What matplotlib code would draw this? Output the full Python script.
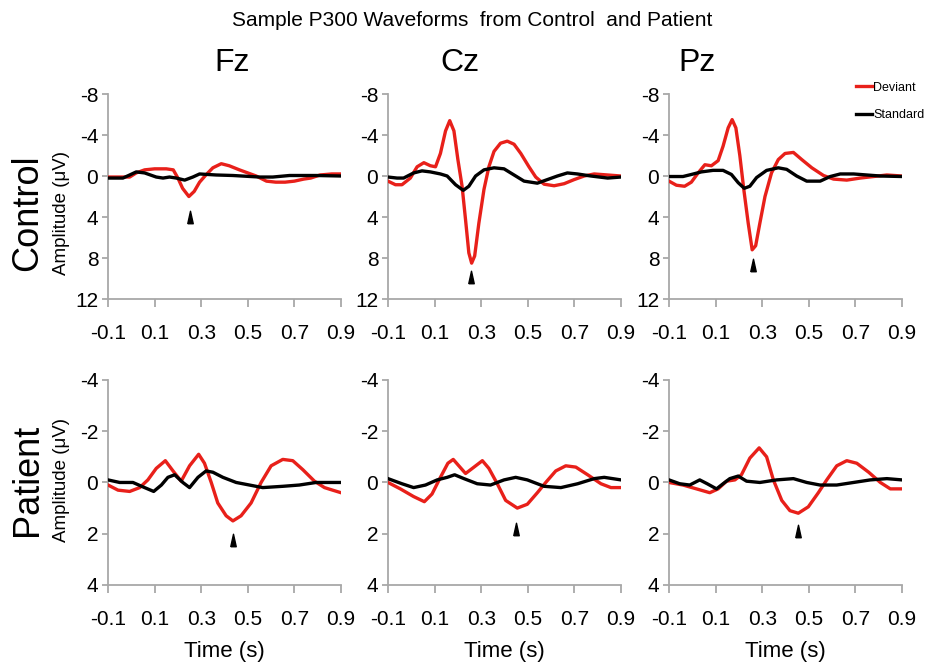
import numpy as np
import matplotlib
matplotlib.use("Agg")
import matplotlib.pyplot as plt
from matplotlib import font_manager

# --- data (time in s, amplitude in uV; positive = down) ---
fz_ctrl_dev_t = [-0.1, -0.036, -0.007, 0.021, 0.057, 0.1, 0.15, 0.18, 0.2, 0.22, 0.247, 0.27, 0.293, 0.32,
                 0.35, 0.386, 0.42, 0.464, 0.5, 0.536, 0.58, 0.62, 0.66, 0.7, 0.74, 0.77, 0.81, 0.86, 0.9]
fz_ctrl_dev_v = [0.1, 0.1, 0.1, -0.3, -0.6, -0.7, -0.7, -0.6, 0.2, 1.2, 2.0, 1.5, 0.6, -0.1,
                 -0.8, -1.2, -1.0, -0.6, -0.3, 0.0, 0.5, 0.6, 0.6, 0.5, 0.3, 0.2, -0.1, -0.2, -0.2]
fz_ctrl_std_t = [-0.1, -0.036, -0.007, 0.021, 0.057, 0.107, 0.136, 0.164, 0.193, 0.229, 0.264, 0.293,
                 0.364, 0.436, 0.55, 0.607, 0.679, 0.793, 0.9]
fz_ctrl_std_v = [0.2, 0.2, -0.1, -0.4, -0.3, 0.1, 0.2, 0.1, 0.2, 0.4, 0.1, -0.2,
                 -0.1, -0.05, 0.1, 0.1, -0.05, -0.05, 0.0]

cz_ctrl_dev_t = [-0.1, -0.068, -0.04, -0.004, 0.025, 0.054, 0.082, 0.104, 0.125, 0.147, 0.165, 0.183,
                 0.2, 0.218, 0.233, 0.247, 0.259, 0.272, 0.29, 0.312, 0.333, 0.355, 0.383, 0.412,
                 0.441, 0.47, 0.505, 0.534, 0.57, 0.613, 0.656, 0.699, 0.742, 0.785, 0.843, 0.9]
cz_ctrl_dev_v = [0.5, 0.85, 0.85, 0.2, -0.9, -1.3, -1.0, -0.9, -2.2, -4.4, -5.4, -4.4,
                 -1.6, 1.0, 4.3, 7.5, 8.5, 7.8, 4.6, 1.3, -0.9, -2.4, -3.2, -3.4,
                 -3.1, -2.2, -0.9, 0.1, 0.8, 0.95, 0.75, 0.35, 0.0, -0.2, -0.1, 0.0]
cz_ctrl_std_t = [-0.1, -0.061, -0.033, 0.01, 0.046, 0.082, 0.125, 0.154, 0.19, 0.223, 0.247, 0.276,
                 0.312, 0.355, 0.398, 0.441, 0.484, 0.541, 0.584, 0.627, 0.67, 0.713, 0.771, 0.843, 0.9]
cz_ctrl_std_v = [0.1, 0.2, 0.2, -0.3, -0.5, -0.4, -0.2, 0.0, 0.85, 1.4, 1.0, 0.0,
                 -0.6, -0.8, -0.7, -0.1, 0.5, 0.7, 0.35, 0.0, -0.3, -0.2, 0.0, 0.2, 0.1]

pz_ctrl_dev_t = [-0.1, -0.068, -0.033, -0.004, 0.025, 0.054, 0.082, 0.111, 0.132, 0.154, 0.171, 0.187,
                 0.204, 0.221, 0.24, 0.257, 0.272, 0.29, 0.312, 0.34, 0.369, 0.398, 0.434, 0.47,
                 0.513, 0.563, 0.606, 0.663, 0.721, 0.778, 0.835, 0.9]
pz_ctrl_dev_v = [0.5, 0.9, 1.0, 0.6, -0.3, -1.1, -1.0, -1.5, -2.9, -4.7, -5.5, -4.7,
                 -2.0, 1.3, 4.6, 7.2, 6.8, 4.6, 2.0, -0.3, -1.6, -2.2, -2.3, -1.6,
                 -0.8, -0.05, 0.3, 0.4, 0.2, 0.05, -0.1, 0.0]
pz_ctrl_std_t = [-0.1, -0.04, -0.004, 0.039, 0.089, 0.132, 0.168, 0.197, 0.223, 0.247, 0.276, 0.319,
                 0.369, 0.405, 0.448, 0.491, 0.549, 0.592, 0.635, 0.692, 0.749, 0.807, 0.9]
pz_ctrl_std_v = [0.05, 0.05, -0.15, -0.4, -0.55, -0.55, -0.15, 0.65, 1.2, 1.0, 0.15, -0.55,
                 -0.8, -0.65, 0.0, 0.5, 0.5, 0.05, -0.2, -0.2, -0.1, 0.0, 0.05]

fz_pat_dev_t = [-0.1, -0.057, -0.007, 0.036, 0.071, 0.107, 0.146, 0.179, 0.214, 0.25, 0.289, 0.314,
                0.343, 0.371, 0.407, 0.436, 0.471, 0.514, 0.557, 0.6, 0.65, 0.693, 0.736, 0.786,
                0.829, 0.864, 0.9]
fz_pat_dev_v = [0.1, 0.3, 0.35, 0.2, -0.1, -0.55, -0.85, -0.45, -0.05, -0.65, -1.1, -0.75,
                0.0, 0.8, 1.3, 1.5, 1.3, 0.8, 0.0, -0.65, -0.9, -0.85, -0.5, -0.05,
                0.2, 0.3, 0.4]
fz_pat_std_t = [-0.1, -0.05, 0.007, 0.057, 0.096, 0.129, 0.157, 0.186, 0.221, 0.25, 0.286, 0.321,
                0.35, 0.393, 0.45, 0.507, 0.564, 0.65, 0.721, 0.793, 0.9]
fz_pat_std_v = [-0.1, 0.0, 0.0, 0.2, 0.35, 0.1, -0.2, -0.3, 0.0, 0.2, -0.2, -0.45,
                -0.4, -0.2, 0.0, 0.1, 0.2, 0.15, 0.1, 0.0, 0.0]

cz_pat_dev_t = [-0.1, -0.047, 0.01, 0.056, 0.089, 0.125, 0.157, 0.18, 0.204, 0.233, 0.262, 0.305,
                0.333, 0.369, 0.405, 0.455, 0.498, 0.541, 0.577, 0.62, 0.663, 0.706, 0.757, 0.814,
                0.857, 0.9]
cz_pat_dev_v = [0.0, 0.25, 0.55, 0.75, 0.45, -0.2, -0.75, -0.9, -0.65, -0.35, -0.55, -0.85,
                -0.55, 0.05, 0.7, 1.0, 0.85, 0.4, 0.0, -0.45, -0.65, -0.6, -0.3, 0.05,
                0.2, 0.2]
cz_pat_std_t = [-0.1, -0.04, 0.01, 0.061, 0.111, 0.154, 0.186, 0.226, 0.283, 0.34, 0.398, 0.448,
                0.498, 0.57, 0.642, 0.714, 0.785, 0.828, 0.9]
cz_pat_std_v = [-0.15, 0.05, 0.2, 0.1, -0.1, -0.2, -0.3, -0.15, 0.05, 0.1, -0.1, -0.2,
                -0.1, 0.15, 0.2, 0.05, -0.15, -0.2, -0.1]

pz_pat_dev_t = [-0.1, -0.04, 0.018, 0.075, 0.111, 0.147, 0.183, 0.211, 0.247, 0.287, 0.319, 0.348,
                0.384, 0.419, 0.455, 0.498, 0.541, 0.577, 0.62, 0.663, 0.706, 0.757, 0.807, 0.85, 0.9]
pz_pat_dev_v = [0.0, 0.1, 0.25, 0.4, 0.25, -0.05, -0.1, -0.3, -0.95, -1.35, -1.0, -0.1,
                0.7, 1.1, 1.2, 0.95, 0.4, -0.1, -0.65, -0.85, -0.75, -0.4, 0.0, 0.25, 0.25]
pz_pat_std_t = [-0.1, -0.054, -0.011, 0.032, 0.064, 0.104, 0.132, 0.161, 0.197, 0.233, 0.29, 0.362,
                0.434, 0.491, 0.548, 0.62, 0.692, 0.764, 0.835, 0.9]
pz_pat_std_v = [-0.1, 0.05, 0.1, -0.1, 0.05, 0.25, 0.05, -0.15, -0.25, -0.05, 0.0, -0.1,
                -0.15, 0.0, 0.1, 0.1, 0.0, -0.1, -0.15, -0.1]

# P300 arrow marks (time, amplitude)
arrows_ctrl = [(0.25, 4.0), (0.257, 9.85), (0.262, 8.7)]
arrows_pat = [(0.436, 2.24), (0.451, 1.82), (0.452, 1.9)]

electrodes = ["Fz", "Cz", "Pz"]
xticks = [-0.1, 0.1, 0.3, 0.5, 0.7, 0.9]
ctrl_yticks = [-8, -4, 0, 4, 8, 12]
pat_yticks = [-4, -2, 0, 2, 4]

names = {f.name for f in font_manager.fontManager.ttflist}
narrow = "Liberation Sans Narrow" if "Liberation Sans Narrow" in names else "Liberation Sans"
plain = "Liberation Sans"

red = "#e8201a"
grey = "#a8a8a8"
arrow_marker = [(-0.22, -0.5), (0.22, -0.5), (0.0, 0.5), (-0.22, -0.5)]

fig = plt.figure(figsize=(9.32, 6.7), dpi=100)

lefts = [0.1159, 0.4163, 0.7178]
w = 0.25
h = 0.306
rows = [
    (0.5537, ctrl_yticks, [(fz_ctrl_dev_t, fz_ctrl_dev_v, fz_ctrl_std_t, fz_ctrl_std_v),
                           (cz_ctrl_dev_t, cz_ctrl_dev_v, cz_ctrl_std_t, cz_ctrl_std_v),
                           (pz_ctrl_dev_t, pz_ctrl_dev_v, pz_ctrl_std_t, pz_ctrl_std_v)], arrows_ctrl),
    (0.1269, pat_yticks, [(fz_pat_dev_t, fz_pat_dev_v, fz_pat_std_t, fz_pat_std_v),
                          (cz_pat_dev_t, cz_pat_dev_v, cz_pat_std_t, cz_pat_std_v),
                          (pz_pat_dev_t, pz_pat_dev_v, pz_pat_std_t, pz_pat_std_v)], arrows_pat),
]

for r, (bottom, yt, series, arrows) in enumerate(rows):
    for c in range(3):
        ax = fig.add_axes([lefts[c], bottom, w, h])
        dt, dv, st, sv = series[c]
        ax.plot(dt, dv, color=red, lw=2.4, solid_joinstyle="round", label="Deviant", zorder=3)
        ax.plot(st, sv, color="black", lw=2.4, solid_joinstyle="round", label="Standard", zorder=4)
        ax.plot(arrows[c][0], arrows[c][1], marker=arrow_marker, ms=9, color="black", ls="none")
        ax.set_xlim(-0.1, 0.9)
        ax.set_ylim(yt[-1], yt[0])
        ax.set_xticks(xticks)
        ax.set_xticklabels([f"{x:g}" for x in xticks])
        ax.set_yticks(yt)
        ax.set_yticklabels([str(y) for y in yt])
        for s in ["top", "right"]:
            ax.spines[s].set_visible(False)
        for s in ["left", "bottom"]:
            ax.spines[s].set_color(grey)
            ax.spines[s].set_linewidth(1.3)
        ax.tick_params(axis="x", length=6, width=1.3, color=grey, pad=12)
        ax.tick_params(axis="y", length=4, width=1.3, color=grey, pad=3)
        for lab in ax.get_xticklabels() + ax.get_yticklabels():
            lab.set_fontfamily(narrow)
            lab.set_fontsize(15)
        if r == 1:
            ax.set_xlabel("Time (s)", fontfamily=narrow, fontsize=16, labelpad=9)
        if r == 0 and c == 2:
            ax.legend(loc="upper left", bbox_to_anchor=(0.78, 1.085), frameon=False,
                      prop={"family": narrow, "size": 9}, handlelength=1.3,
                      handletextpad=0.1, labelspacing=1.25, borderaxespad=0)

fig.text(0.507, 0.969, "Sample P300 Waveforms  from Control  and Patient", ha="center", va="center",
         fontfamily=plain, fontsize=15)
for name, x in zip(electrodes, [232, 460, 697]):
    fig.text(x / 932, 1 - 63 / 670, name, ha="center", va="center", fontfamily=narrow, fontsize=23)

fig.text(28 / 932, 1 - 213 / 670, "Control", rotation=90, ha="center", va="center",
         fontfamily=plain, fontsize=26)
fig.text(62 / 932, 1 - 213 / 670, "Amplitude (\u03bcV)", rotation=90, ha="center", va="center",
         fontfamily=plain, fontsize=13.5)
fig.text(28 / 932, 1 - 480 / 670, "Patient", rotation=90, ha="center", va="center",
         fontfamily=plain, fontsize=26)
fig.text(62 / 932, 1 - 480 / 670, "Amplitude (\u03bcV)", rotation=90, ha="center", va="center",
         fontfamily=plain, fontsize=13.5)

fig.savefig("out.png", dpi=100)
